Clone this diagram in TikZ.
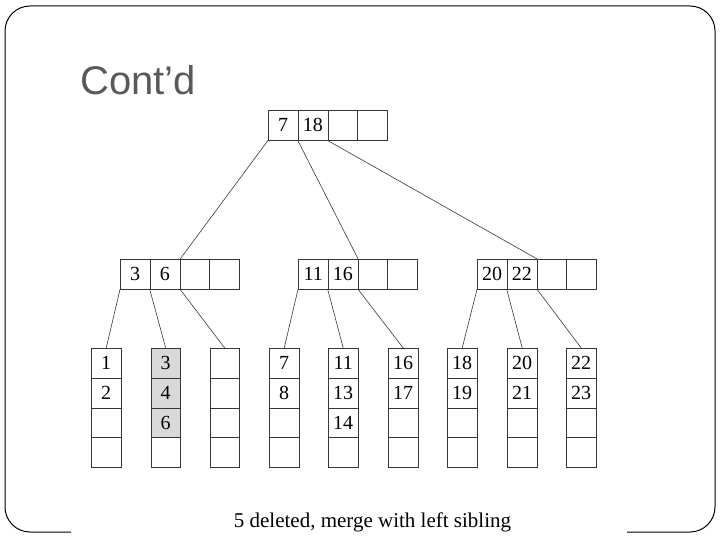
\documentclass[tikz,border=0pt]{standalone}
\usepackage{fontspec}
\setmainfont{Liberation Serif}
\newfontfamily\titlefont{Liberation Sans}
\definecolor{titlegray}{RGB}{89,89,89}
\definecolor{linegray}{RGB}{55,55,55}
\definecolor{shadegray}{RGB}{217,217,217}
\tikzset{
  cell/.style={draw=linegray, line width=0.65pt, minimum width=29.75pt, minimum height=29.75pt,
    inner sep=0pt, anchor=north west, font=\fontsize{20}{20}\selectfont},
  shadedcell/.style={cell, fill=shadegray},
  link/.style={draw=linegray, line width=0.6pt},
}
\begin{document}
\begin{tikzpicture}[x=1pt,y=-1pt]
\useasboundingbox (0,0) rectangle (720,540);
% frame
\draw[line width=1pt, rounded corners=25pt] (71,532) -- (5,532) -- (5,6) -- (715,6) -- (715,532) -- (627,532);
% title
\node[anchor=base west, inner sep=0pt, font=\titlefont\fontsize{40}{40}\selectfont, text=titlegray] (title) at (80,95) {Cont’d};
% root
\node[cell] (r1) at (268,110) {7};
\node[cell] (r2) at (297.75,110) {18};
\node[cell] (r3) at (327.5,110) {};
\node[cell] (r4) at (357.25,110) {};
% internal left
\node[cell] (L1) at (120,259) {3};
\node[cell] (L2) at (149.75,259) {6};
\node[cell] (L3) at (179.5,259) {};
\node[cell] (L4) at (209.25,259) {};
% internal middle
\node[cell] (M1) at (298,259) {11};
\node[cell] (M2) at (327.75,259) {16};
\node[cell] (M3) at (357.5,259) {};
\node[cell] (M4) at (387.25,259) {};
% internal right
\node[cell] (R1) at (477,259) {20};
\node[cell] (R2) at (506.75,259) {22};
\node[cell] (R3) at (536.5,259) {};
\node[cell] (R4) at (566.25,259) {};
% leaves
\node[cell] (A1) at (91,348) {1};
\node[cell] (A2) at (91,377.75) {2};
\node[cell] (A3) at (91,407.5) {};
\node[cell] (A4) at (91,437.25) {};
\node[shadedcell] (B1) at (150.5,348) {3};
\node[shadedcell] (B2) at (150.5,377.75) {4};
\node[shadedcell] (B3) at (150.5,407.5) {6};
\node[cell] (B4) at (150.5,437.25) {};
\node[cell] (C1) at (209.5,348) {};
\node[cell] (C2) at (209.5,377.75) {};
\node[cell] (C3) at (209.5,407.5) {};
\node[cell] (C4) at (209.5,437.25) {};
\node[cell] (D1) at (269,348) {7};
\node[cell] (D2) at (269,377.75) {8};
\node[cell] (D3) at (269,407.5) {};
\node[cell] (D4) at (269,437.25) {};
\node[cell] (E1) at (328,348) {11};
\node[cell] (E2) at (328,377.75) {13};
\node[cell] (E3) at (328,407.5) {14};
\node[cell] (E4) at (328,437.25) {};
\node[cell] (F1) at (388,348) {16};
\node[cell] (F2) at (388,377.75) {17};
\node[cell] (F3) at (388,407.5) {};
\node[cell] (F4) at (388,437.25) {};
\node[cell] (G1) at (447,348) {18};
\node[cell] (G2) at (447,377.75) {19};
\node[cell] (G3) at (447,407.5) {};
\node[cell] (G4) at (447,437.25) {};
\node[cell] (H1) at (507,348) {20};
\node[cell] (H2) at (507,377.75) {21};
\node[cell] (H3) at (507,407.5) {};
\node[cell] (H4) at (507,437.25) {};
\node[cell] (I1) at (566,348) {22};
\node[cell] (I2) at (566,377.75) {23};
\node[cell] (I3) at (566,407.5) {};
\node[cell] (I4) at (566,437.25) {};
% root links
\draw[link] (r1.south west) -- (L2.north east);
\draw[link] (r2.south west) -- (M2.north east);
\draw[link] (r3.south west) -- (R2.north east);
% internal links
\draw[link] (L1.south west) -- (A1.north);
\draw[link] (L2.south west) -- (B1.north);
\draw[link] (L2.south east) -- (C1.north);
\draw[link] (M1.south west) -- (D1.north);
\draw[link] (M2.south west) -- (E1.north);
\draw[link] (M2.south east) -- (F1.north);
\draw[link] (R1.south west) -- (G1.north);
\draw[link] (R2.south west) -- (H1.north);
\draw[link] (R2.south east) -- (I1.north);
% caption
\node[anchor=base, inner sep=0pt, font=\fontsize{21}{21}\selectfont] (caption) at (372.5,527) {5 deleted, merge with left sibling};
\end{tikzpicture}
\end{document}
